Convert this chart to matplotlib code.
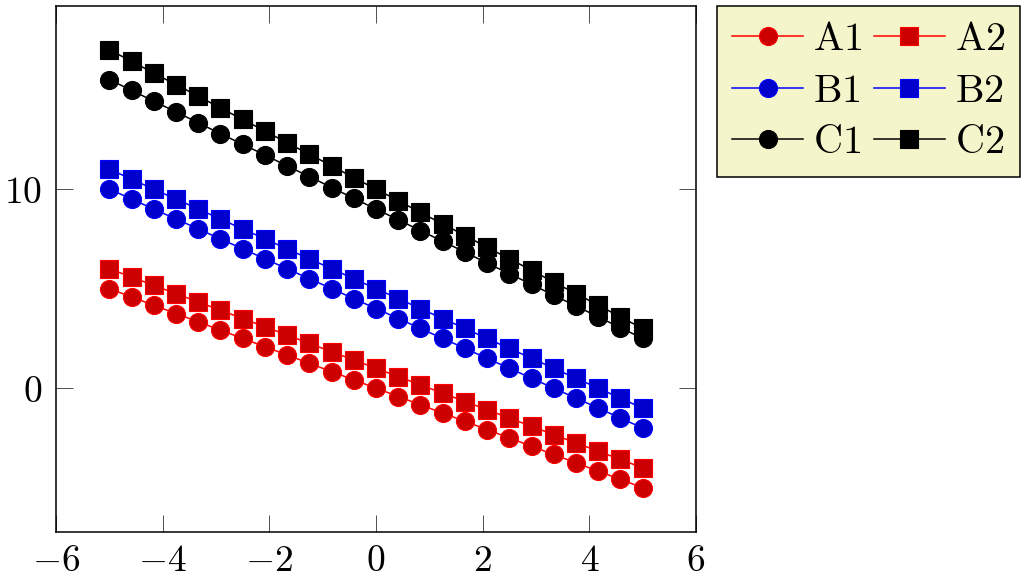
import matplotlib
matplotlib.use("Agg")
import matplotlib.pyplot as plt
from matplotlib.ticker import FuncFormatter, FixedLocator

plt.rcParams['mathtext.fontset'] = 'cm'
plt.rcParams['font.family'] = ['DejaVu Serif']

x = [-5, -4.58, -4.17, -3.75, -3.33, -2.92, -2.5, -2.08, -1.67, -1.25, -0.83, -0.42,
     0, 0.42, 0.83, 1.25, 1.67, 2.08, 2.5, 2.92, 3.33, 3.75, 4.17, 4.58, 5]

A1 = [5, 4.58, 4.17, 3.75, 3.33, 2.92, 2.5, 2.08, 1.67, 1.25, 0.83, 0.42,
      0, -0.42, -0.83, -1.25, -1.67, -2.08, -2.5, -2.92, -3.33, -3.75, -4.17, -4.58, -5]
A2 = [6, 5.58, 5.17, 4.75, 4.33, 3.92, 3.5, 3.08, 2.67, 2.25, 1.83, 1.42,
      1, 0.58, 0.17, -0.25, -0.67, -1.08, -1.5, -1.92, -2.33, -2.75, -3.17, -3.58, -4]
B1 = [10, 9.5, 9, 8.5, 8, 7.5, 7, 6.5, 6, 5.5, 5, 4.5,
      4, 3.5, 3, 2.5, 2, 1.5, 1, 0.5, 0, -0.5, -1, -1.5, -2]
B2 = [11, 10.5, 10, 9.5, 9, 8.5, 8, 7.5, 7, 6.5, 6, 5.5,
      5, 4.5, 4, 3.5, 3, 2.5, 2, 1.5, 1, 0.5, 0, -0.5, -1]
C1 = [15.5, 14.96, 14.42, 13.88, 13.33, 12.79, 12.25, 11.71, 11.17, 10.63, 10.08, 9.54,
      9, 8.46, 7.92, 7.38, 6.83, 6.29, 5.75, 5.21, 4.67, 4.13, 3.58, 3.04, 2.5]
C2 = [17, 16.42, 15.83, 15.25, 14.67, 14.08, 13.5, 12.92, 12.33, 11.75, 11.17, 10.58,
      10, 9.42, 8.83, 8.25, 7.67, 7.08, 6.5, 5.92, 5.33, 4.75, 4.17, 3.58, 3]

labels = ['A1', 'A2', 'B1', 'B2', 'C1', 'C2']
xticks = [-6, -4, -2, 0, 2, 4, 6]
yticks = [0, 10]

series = [A1, A2, B1, B2, C1, C2]
styles = [
    dict(color='#ff0000', markerfacecolor='#cc0000', markeredgecolor='#ff0000', marker='o'),
    dict(color='#ff0000', markerfacecolor='#cc0000', markeredgecolor='#ff0000', marker='s'),
    dict(color='#0000ff', markerfacecolor='#0000cc', markeredgecolor='#0000ff', marker='o'),
    dict(color='#0000ff', markerfacecolor='#0000cc', markeredgecolor='#0000ff', marker='s'),
    dict(color='black', markerfacecolor='black', markeredgecolor='black', marker='o'),
    dict(color='black', markerfacecolor='black', markeredgecolor='black', marker='s'),
]

fig = plt.figure(figsize=(10.29, 5.78), dpi=100)
ax = fig.add_axes([56/1029, 1-531.5/578, 640/1029, 525.5/578])

handles = []
for ys, lab, st in zip(series, labels, styles):
    h, = ax.plot(x, ys, linewidth=1.1, markersize=13, markeredgewidth=0.8,
                 label=r'$\mathrm{%s}$' % lab, **st)
    handles.append(h)

ax.set_xlim(-6, 6)
ax.set_ylim(-7.2, 19.2)
ax.xaxis.set_major_locator(FixedLocator(xticks))
ax.yaxis.set_major_locator(FixedLocator(yticks))
fmt = FuncFormatter(lambda v, p: r'$%d$' % round(v))
ax.xaxis.set_major_formatter(fmt)
ax.yaxis.set_major_formatter(fmt)
ax.tick_params(direction='in', length=12.5, width=0.6, color='#333333',
               top=True, right=True, labelsize=27)
ax.tick_params(axis='x', pad=8)
ax.tick_params(axis='y', pad=10)
for s in ax.spines.values():
    s.set_linewidth(1.1)

# row-major legend order (matplotlib fills columns first)
order = [0, 2, 4, 1, 3, 5]
leg = ax.legend([handles[i] for i in order], [handles[i].get_label() for i in order],
                ncol=2, loc='upper left', bbox_to_anchor=(717/1029, 1-6/578),
                bbox_transform=fig.transFigure, fontsize=29, frameon=True,
                fancybox=False, handlelength=1.76, handletextpad=0.25,
                columnspacing=0.28, labelspacing=0.36, borderpad=0.38,
                borderaxespad=0)
fr = leg.get_frame()
fr.set_facecolor('#f5f5cb')
fr.set_edgecolor('black')
fr.set_linewidth(1.1)
fr.set_alpha(1)

fig.savefig('out.png', dpi=100)
